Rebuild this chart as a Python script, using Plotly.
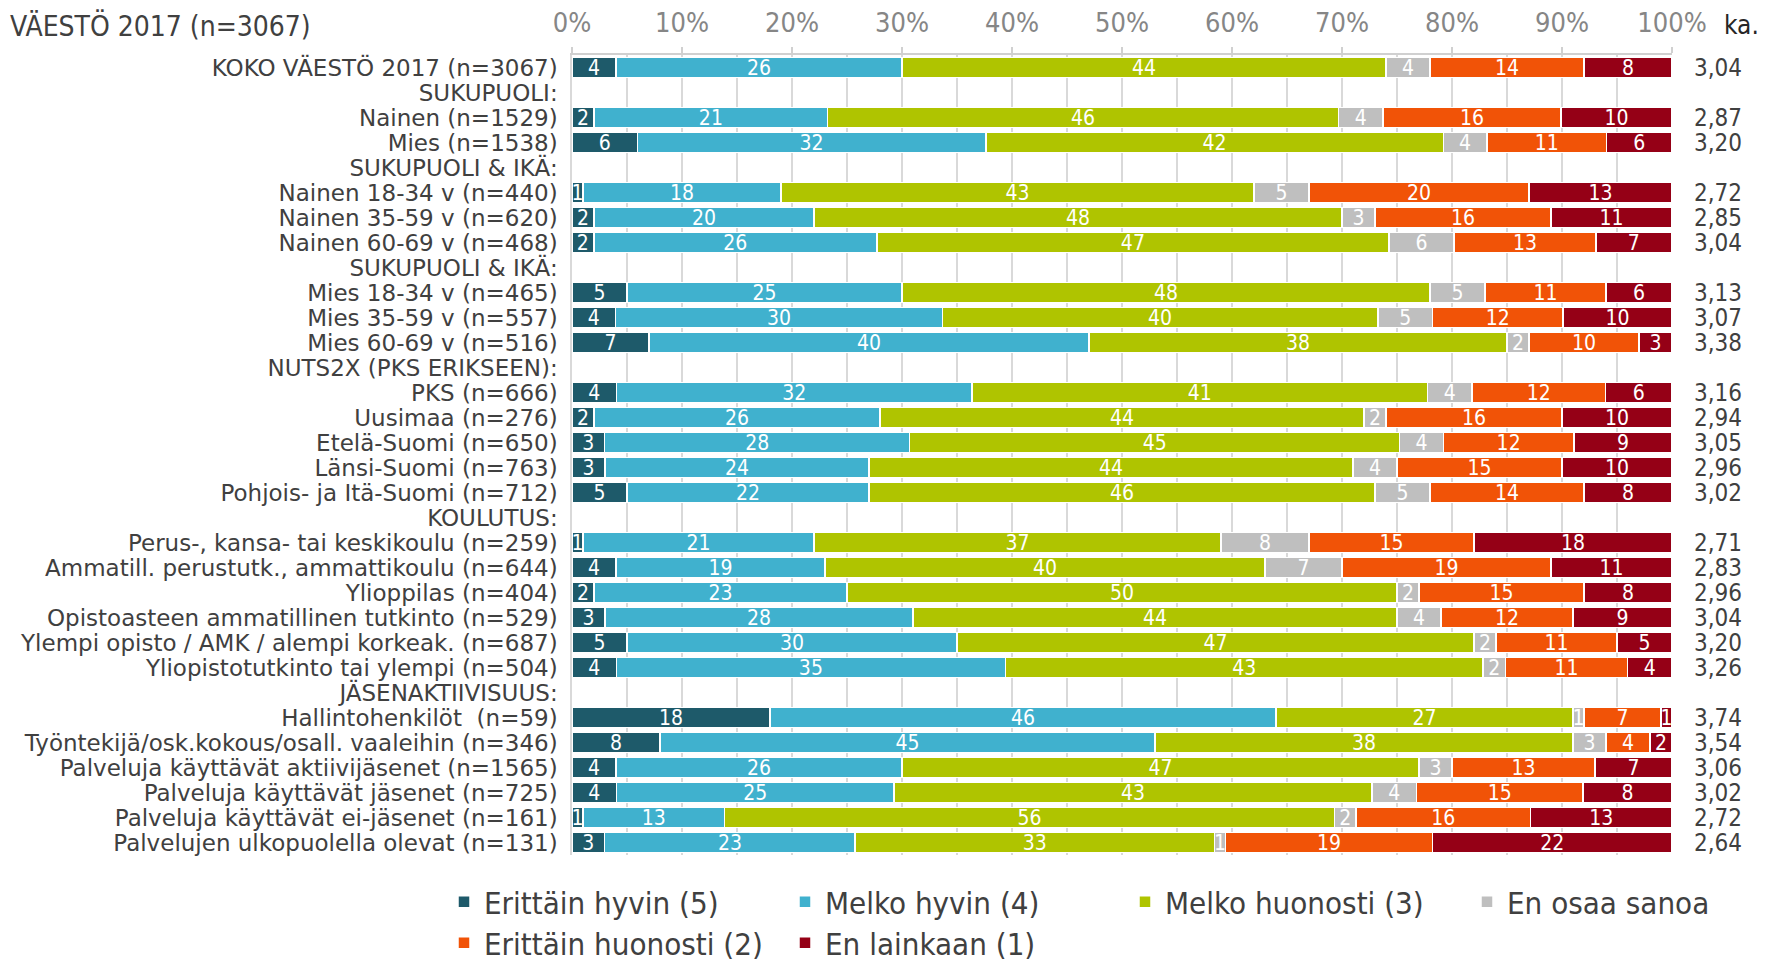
import plotly.graph_objects as go

categories = [
    "KOKO VÄESTÖ 2017 (n=3067)",
    "SUKUPUOLI:",
    "Nainen (n=1529)",
    "Mies (n=1538)",
    "SUKUPUOLI & IKÄ:",
    "Nainen 18-34 v (n=440)",
    "Nainen 35-59 v (n=620)",
    "Nainen 60-69 v (n=468)",
    "SUKUPUOLI & IKÄ:",
    "Mies 18-34 v (n=465)",
    "Mies 35-59 v (n=557)",
    "Mies 60-69 v (n=516)",
    "NUTS2X (PKS ERIKSEEN):",
    "PKS (n=666)",
    "Uusimaa (n=276)",
    "Etelä-Suomi (n=650)",
    "Länsi-Suomi (n=763)",
    "Pohjois- ja Itä-Suomi (n=712)",
    "KOULUTUS:",
    "Perus-, kansa- tai keskikoulu (n=259)",
    "Ammatill. perustutk., ammattikoulu (n=644)",
    "Ylioppilas (n=404)",
    "Opistoasteen ammatillinen tutkinto (n=529)",
    "Ylempi opisto / AMK / alempi korkeak. (n=687)",
    "Yliopistotutkinto tai ylempi (n=504)",
    "JÄSENAKTIIVISUUS:",
    "Hallintohenkilöt  (n=59)",
    "Työntekijä/osk.kokous/osall. vaaleihin (n=346)",
    "Palveluja käyttävät aktiivijäsenet (n=1565)",
    "Palveluja käyttävät jäsenet (n=725)",
    "Palveluja käyttävät ei-jäsenet (n=161)",
    "Palvelujen ulkopuolella olevat (n=131)",
]

N = None
erittain_hyvin = [4, N, 2, 6, N, 1, 2, 2, N, 5, 4, 7, N, 4, 2, 3, 3, 5, N, 1, 4, 2, 3, 5, 4, N, 18, 8, 4, 4, 1, 3]
melko_hyvin = [26, N, 21, 32, N, 18, 20, 26, N, 25, 30, 40, N, 32, 26, 28, 24, 22, N, 21, 19, 23, 28, 30, 35, N, 46, 45, 26, 25, 13, 23]
melko_huonosti = [44, N, 46, 42, N, 43, 48, 47, N, 48, 40, 38, N, 41, 44, 45, 44, 46, N, 37, 40, 50, 44, 47, 43, N, 27, 38, 47, 43, 56, 33]
en_osaa = [4, N, 4, 4, N, 5, 3, 6, N, 5, 5, 2, N, 4, 2, 4, 4, 5, N, 8, 7, 2, 4, 2, 2, N, 1, 3, 3, 4, 2, 1]
erittain_huonosti = [14, N, 16, 11, N, 20, 16, 13, N, 11, 12, 10, N, 12, 16, 12, 15, 14, N, 15, 19, 15, 12, 11, 11, N, 7, 4, 13, 15, 16, 19]
en_lainkaan = [8, N, 10, 6, N, 13, 11, 7, N, 6, 10, 3, N, 6, 10, 9, 10, 8, N, 18, 11, 8, 9, 5, 4, N, 1, 2, 7, 8, 13, 22]

keskiarvo = ["3,04", "", "2,87", "3,20", "", "2,72", "2,85", "3,04", "", "3,13", "3,07", "3,38", "",
             "3,16", "2,94", "3,05", "2,96", "3,02", "", "2,71", "2,83", "2,96", "3,04", "3,20", "3,26", "",
             "3,74", "3,54", "3,06", "3,02", "2,72", "2,64"]

series_names = ["Erittäin hyvin (5)", "Melko hyvin (4)", "Melko huonosti (3)", "En osaa sanoa",
                "Erittäin huonosti (2)", "En lainkaan (1)"]
series_values = [erittain_hyvin, melko_hyvin, melko_huonosti, en_osaa, erittain_huonosti, en_lainkaan]
series_colors = ["#1E5A6A", "#40B1CE", "#AFC400", "#BFBFBF", "#F15307", "#950016"]

tick_vals = [0, 10, 20, 30, 40, 50, 60, 70, 80, 90, 100]
tick_text = ["0%", "10%", "20%", "30%", "40%", "50%", "60%", "70%", "80%", "90%", "100%"]

COND = "DejaVu Sans Condensed, DejaVu Sans, sans-serif"
NORM = "DejaVu Sans, Verdana, sans-serif"

W, H = 1765, 959
OFF = 8  # page body margin offset
ml, mt = 572 - OFF, 55 - OFF
pw, ph = 1100, 800
mr = W - ml - pw
mb = H - mt - ph

# legend entry placement (text start x, text centre y) in page pixels
legend_pos = [(484, 902), (825, 902), (1165, 902), (1507, 902), (484, 943), (825, 943)]

ypos = list(range(len(categories)))

fig = go.Figure()
legends = {}
for k, (name, vals, col) in enumerate(zip(series_names, series_values, series_colors)):
    lname = "legend" if k == 0 else f"legend{k + 1}"
    fig.add_trace(go.Bar(
        name=name,
        y=ypos,
        x=vals,
        orientation="h",
        marker=dict(color=col, line=dict(color="white", width=1.5)),
        text=["" if v is None else str(v) for v in vals],
        texttemplate="%{text}",
        textposition="inside",
        insidetextanchor="middle",
        textangle=0,
        insidetextfont=dict(color="white", size=21, family=COND),
        hoverinfo="skip",
        legend=lname,
    ))
    tx, ty = legend_pos[k]
    legends[lname] = dict(
        orientation="h",
        xref="container", yref="container",
        x=(tx - OFF - 40) / W, xanchor="left",
        y=1 - (ty - OFF) / H, yanchor="middle",
        font=dict(size=31, color="#404040", family=COND),
        bgcolor="rgba(0,0,0,0)",
        itemclick=False, itemdoubleclick=False,
    )

annotations = []
for i, m in enumerate(keskiarvo):
    if m:
        annotations.append(dict(
            x=(1692 - OFF - ml) / pw, xref="paper", xanchor="left",
            y=i, yref="y", yanchor="middle",
            text=m, showarrow=False,
            font=dict(size=24, color="#404040", family=COND),
        ))
annotations.append(dict(
    x=(1722 - OFF - ml) / pw, xref="paper", xanchor="left",
    y=1 + (55 - 25) / ph, yref="paper", yanchor="middle",
    text="ka.", showarrow=False,
    font=dict(size=26, color="#262626", family=COND),
))
annotations.append(dict(
    x=(-ml) / pw, xref="paper", xanchor="left",
    y=1 + (55 - 26) / ph, yref="paper", yanchor="middle",
    text="VÄESTÖ 2017 (n=3067)", showarrow=False,
    font=dict(size=28, color="#404040", family=COND),
))

fig.update_layout(
    width=W, height=H,
    margin=dict(l=ml, r=mr, t=mt, b=mb, pad=0, autoexpand=False),
    barmode="stack",
    barnorm="percent",
    bargap=0.2,
    plot_bgcolor="white",
    paper_bgcolor="white",
    uniformtext=dict(mode="show", minsize=21),
    xaxis=dict(
        side="top",
        range=[0, 100],
        tickvals=tick_vals,
        ticktext=tick_text,
        tickfont=dict(size=27, color="#868686", family=COND),
        showgrid=True, gridcolor="#D9D9D9", gridwidth=1.5,
        minor=dict(dtick=5, showgrid=True, gridcolor="#D9D9D9", gridwidth=1.5),
        showline=True, linecolor="#D0D0D0", linewidth=2,
        ticks="outside", ticklen=6, tickcolor="#D0D0D0", tickwidth=1.5,
        ticklabelstandoff=4,
        zeroline=False,
        automargin=False,
        fixedrange=True,
    ),
    yaxis=dict(
        tickvals=ypos,
        ticktext=categories,
        range=[len(categories) - 0.5, -0.5],
        tickfont=dict(size=23, color="#404040", family=NORM),
        showline=True, linecolor="#D9D9D9", linewidth=1.5,
        showgrid=False, zeroline=False,
        ticks="", ticklabelstandoff=8,
        automargin=False,
        fixedrange=True,
    ),
    annotations=annotations,
    showlegend=True,
    **legends,
)

fig.write_html("out.html")
